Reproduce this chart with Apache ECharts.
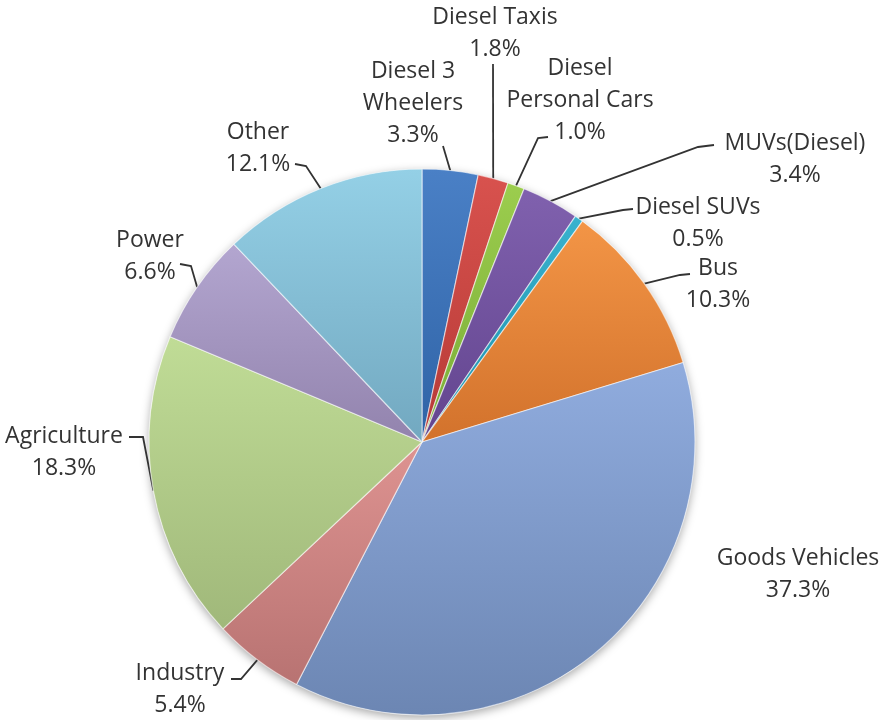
<!DOCTYPE html>
<html>
<head>
<meta charset="utf-8">
<script src="https://cdn.jsdelivr.net/npm/echarts@6/dist/echarts.min.js"></script>
<style>
  html, body { margin: 0; padding: 0; background: #fff; }
  #chart { width: 885px; height: 720px; }
</style>
</head>
<body>
<div id="chart"></div>
<script>
var categories = ['Diesel 3 Wheelers', 'Diesel Taxis', 'Diesel Personal Cars', 'MUVs(Diesel)',
  'Diesel SUVs', 'Bus', 'Goods Vehicles', 'Industry', 'Agriculture', 'Power', 'Other']
var shares = [3.3, 1.8, 1.0, 3.4, 0.5, 10.3, 37.3, 5.4, 18.3, 6.6, 12.1]
// how the names wrap in the labels
var labelNames = ['Diesel 3\nWheelers', 'Diesel Taxis', 'Diesel\nPersonal Cars', 'MUVs(Diesel)',
  'Diesel SUVs', 'Bus', 'Goods Vehicles', 'Industry', 'Agriculture', 'Power', 'Other']

// slice colours, top -> bottom of the gradient
var colorsTop = ['#4a80c6', '#d8524e', '#9ccd4e', '#8061ae', '#38b2ce', '#f39546',
  '#90acde', '#de9391', '#c0dc96', '#b3a6d0', '#94d0e6']
var colorsBottom = ['#2f63a6', '#b63a36', '#78ab36', '#62448e', '#1e8fab', '#d2722c',
  '#6c86b3', '#b87372', '#a0b87a', '#9283ad', '#72a8c0']

// label block centres and leader line elbows (pixels)
var labelAt = [[413, 103], [495, 33], [580, 100], [795, 159], [698, 223], [718, 284],
  [798, 574], [180, 689], [64, 452], [150, 256], [258, 148]]
var lineEnd = [[[443, 146]], [[493, 64]], [[538, 138], [548, 137]], [[698, 147], [714, 145]],
  [[623, 210], [633, 209]], [[680, 275], [690, 274]], null, [[241, 679], [231, 679]],
  [[143, 437], [129, 437]], [[191, 266], [180, 264]], [[306, 166], [295, 164]]]

var cx = 422
var cy = 442
var R = 273

var chart = echarts.init(document.getElementById('chart'), null, { renderer: 'canvas' })

var total = shares.reduce(function (a, b) { return a + b }, 0)
var midAngles = []
var acc = 0
shares.forEach(function (v) {
  midAngles.push((acc + v / 2) / total * Math.PI * 2)
  acc += v
})

var pieData = categories.map(function (name, i) {
  return {
    name: name,
    value: shares[i],
    itemStyle: {
      color: new echarts.graphic.LinearGradient(0, 0, 0, 1, [
        { offset: 0, color: colorsTop[i] },
        { offset: 1, color: colorsBottom[i] }
      ])
    },
    labelLine: { show: lineEnd[i] !== null }
  }
})

var option = {
  backgroundColor: '#ffffff',
  series: [
    {
      // soft shadow under the whole pie
      type: 'pie',
      silent: true,
      center: [cx, cy],
      radius: R,
      data: [{ value: total, itemStyle: { color: '#ffffff' } }],
      itemStyle: { shadowBlur: 10, shadowOffsetY: 3, shadowColor: 'rgba(0,0,0,0.35)' },
      label: { show: false },
      labelLine: { show: false },
      z: 1
    },
    {
      type: 'pie',
      center: [cx, cy],
      radius: R,
      startAngle: 90,
      clockwise: true,
      avoidLabelOverlap: false,
      z: 2,
      data: pieData,
      itemStyle: {
        borderColor: 'rgba(255,255,255,0.55)',
        borderWidth: 1.2
      },
      label: {
        show: true,
        position: 'outside',
        fontFamily: 'Open Sans',
        fontSize: 23,
        lineHeight: 32,
        color: '#333333',
        formatter: function (p) {
          return labelNames[p.dataIndex] + '\n' + p.value.toFixed(1) + '%'
        }
      },
      labelLine: {
        show: true,
        lineStyle: { color: '#333333', width: 1.8 }
      },
      labelLayout: function (p) {
        var i = p.dataIndex
        var a = midAngles[i]
        var edge = [cx + R * Math.sin(a), cy - R * Math.cos(a)]
        var res = {
          x: labelAt[i][0],
          y: labelAt[i][1],
          align: 'center',
          verticalAlign: 'middle'
        }
        if (lineEnd[i]) {
          res.labelLinePoints = [edge].concat(lineEnd[i])
        }
        return res
      }
    }
  ]
}

chart.setOption(option)
</script>
</body>
</html>
